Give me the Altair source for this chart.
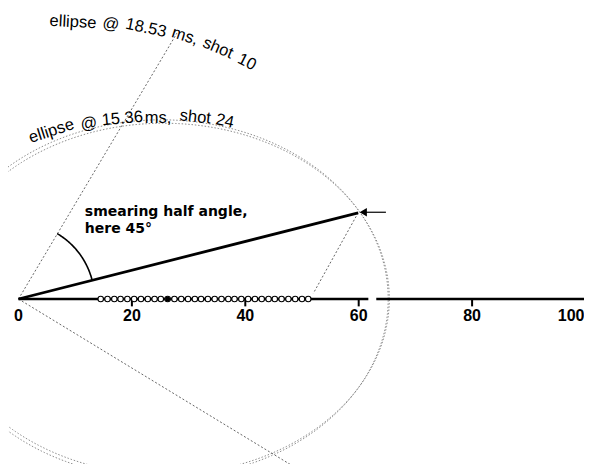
import altair as alt
import pandas as pd
import numpy as np

# ---------------- data ----------------
tick_values = [20, 40, 60, 80, 100]
tick_label_values = [0, 20, 40, 60, 80]
tick_label_texts = ["0", "20", "40", "60", "80"]
last_label_value = [100]
last_label_text = ["100"]

axis_seg_start = [0.0, 63.1]
axis_seg_end = [61.7, 100.0]

sensor_x = [14.5, 15.7, 16.9, 18.0, 19.2, 20.4, 21.6, 22.8, 24.0, 25.1, 26.3,
            27.5, 28.7, 29.9, 31.1, 32.2, 33.4, 34.6, 35.8, 37.0, 38.1, 39.3,
            40.5, 41.7, 42.9, 44.1, 45.2, 46.4, 47.6, 48.8, 50.0, 51.1]
filled_sensor_x = [26.3]

origin = [0.0, 0.0]
source_point = [59.9, 15.2]
ray_upper_end = [27.95, 46.9]
ray_lower_end = [49.6, -30.2]
focus_line_end = [52.0, 1.0]

arrow_tail = [64.8, 15.3]
arrow_head = [60.8, 15.3]

arc_radius = 13.4
arc_start_deg = 14.3
arc_end_deg = 59.4

ellipse_id = ["e1", "e2"]
ellipse_cx = [25.6, 25.2]
ellipse_a = [39.8, 40.0]
ellipse_b = [31.0, 31.6]

label1_words = ["ellipse", "@", "18.53", "ms,", "shot", "10"]
label1_x = [9.61, 16.31, 22.49, 29.37, 35.19, 40.30]
label1_y = [48.85, 48.5, 47.8, 46.38, 44.27, 41.8]
label1_angle = [3, 7, 12, 18, 23, 27]

label2_words = ["ellipse", "@", "15.36", "ms,", "shot", "24"]
label2_x = [5.8, 12.4, 18.3, 24.6, 31.2, 36.4]
label2_y = [29.63, 30.95, 31.83, 32.01, 32.1, 31.39]
label2_angle = [342, 350, 355, 0, 6, 12]

note_lines = ["smearing half angle,", "here 45°"]
note_x = [11.7, 11.7]
note_y = [15.26, 12.26]

# ---------------- scales ----------------
PX_PER_UNIT = 5.67
X0_PX, Y0_PX = 18.5, 299.0
W, H = 576, 456
xdom = [(8 - X0_PX) / PX_PER_UNIT, (8 + W - X0_PX) / PX_PER_UNIT]
ydom = [(Y0_PX - 8 - H) / PX_PER_UNIT, (Y0_PX - 8) / PX_PER_UNIT]
xs = alt.Scale(domain=xdom, nice=False, zero=False)
ys = alt.Scale(domain=ydom, nice=False, zero=False)
FONT = "Liberation Sans"


def X(f="x"):
    return alt.X(f"{f}:Q", scale=xs, axis=None)


def Y(f="y"):
    return alt.Y(f"{f}:Q", scale=ys, axis=None)


# ellipse outlines (geometry from the parameters)
rows = []
for eid, cx, a, b in zip(ellipse_id, ellipse_cx, ellipse_a, ellipse_b):
    for i, t in enumerate(np.linspace(0, 2 * np.pi, 361)):
        rows.append({"id": eid, "i": i, "x": cx + a * np.cos(t), "y": b * np.sin(t)})
ell_df = pd.DataFrame(rows)

ellipses = alt.Chart(ell_df).mark_line(
    color="#808080", strokeWidth=0.9, strokeDash=[1.5, 1.8], clip=True
).encode(x=X(), y=Y(), detail="id:N", order="i:Q")

rays_df = pd.DataFrame({
    "x": [origin[0], origin[0], source_point[0]],
    "y": [origin[1], origin[1], source_point[1]],
    "x2": [ray_upper_end[0], ray_lower_end[0], focus_line_end[0]],
    "y2": [ray_upper_end[1], ray_lower_end[1], focus_line_end[1]],
})
rays = alt.Chart(rays_df).mark_rule(
    color="#555555", strokeWidth=0.9, strokeDash=[2, 2], clip=True
).encode(x=X(), y=Y(), x2="x2:Q", y2="y2:Q")

axis_df = pd.DataFrame({"x": axis_seg_start, "x2": axis_seg_end, "y": [0.0, 0.0]})
axis_line = alt.Chart(axis_df).mark_rule(color="black", strokeWidth=2.6).encode(
    x=X(), x2="x2:Q", y=Y())

ticks_df = pd.DataFrame({"x": tick_values, "y": [0.0] * 5, "y2": [-1.3] * 5})
ticks = alt.Chart(ticks_df).mark_rule(color="black", strokeWidth=2).encode(
    x=X(), y=Y(), y2="y2:Q")

thick_df = pd.DataFrame({"x": [origin[0]], "y": [origin[1]],
                         "x2": [source_point[0]], "y2": [source_point[1]]})
thick = alt.Chart(thick_df).mark_rule(color="black", strokeWidth=2.8).encode(
    x=X(), y=Y(), x2="x2:Q", y2="y2:Q")

angs = np.radians(np.linspace(arc_start_deg, arc_end_deg, 60))
arc_df = pd.DataFrame({"i": range(60), "x": arc_radius * np.cos(angs),
                       "y": arc_radius * np.sin(angs)})
arc = alt.Chart(arc_df).mark_line(color="black", strokeWidth=1.6).encode(
    x=X(), y=Y(), order="i:Q")

arrow_df = pd.DataFrame({"x": [arrow_tail[0]], "y": [arrow_tail[1]],
                         "x2": [arrow_head[0]], "y2": [arrow_head[1]]})
arrow_line = alt.Chart(arrow_df).mark_rule(color="black", strokeWidth=1.2).encode(
    x=X(), y=Y(), x2="x2:Q", y2="y2:Q")
arrow_tip = alt.Chart(pd.DataFrame({"x": [arrow_head[0]], "y": [arrow_head[1]]})).mark_point(
    shape="triangle-left", filled=True, color="black", size=70, opacity=1).encode(x=X(), y=Y())

sensors = alt.Chart(pd.DataFrame({"x": sensor_x, "y": [0.0] * len(sensor_x)})).mark_point(
    shape="circle", filled=True, fill="white", stroke="black", strokeWidth=1.1,
    size=30, opacity=1).encode(x=X(), y=Y())
filled = alt.Chart(pd.DataFrame({"x": filled_sensor_x, "y": [0.0]})).mark_point(
    shape="circle", filled=True, color="black", size=26, opacity=1).encode(x=X(), y=Y())

tick_labels = alt.Chart(pd.DataFrame({"x": tick_label_values, "y": [-3.0] * 5,
                                      "t": tick_label_texts})).mark_text(
    font=FONT, fontSize=16, fontWeight="bold", color="black", baseline="middle"
).encode(x=X(), y=Y(), text="t:N")
last_label = alt.Chart(pd.DataFrame({"x": last_label_value, "y": [-3.0],
                                     "t": last_label_text})).mark_text(
    font=FONT, fontSize=16, fontWeight="bold", color="black", baseline="middle",
    align="right", dx=-1).encode(x=X(), y=Y(), text="t:N")

notes = alt.Chart(pd.DataFrame({"x": note_x, "y": note_y, "t": note_lines})).mark_text(
    font="DejaVu Sans", fontSize=14, fontWeight="bold", color="black", align="left",
    baseline="middle").encode(x=X(), y=Y(), text="t:N")

lab1 = alt.Chart(pd.DataFrame({"x": label1_x, "y": label1_y, "t": label1_words,
                               "a": label1_angle})).mark_text(
    font=FONT, fontSize=16.5, color="black", baseline="middle").encode(
    x=X(), y=Y(), text="t:N", angle=alt.Angle("a:Q", scale=None))
lab2 = alt.Chart(pd.DataFrame({"x": label2_x, "y": label2_y, "t": label2_words,
                               "a": label2_angle})).mark_text(
    font=FONT, fontSize=16.5, color="black", baseline="middle").encode(
    x=X(), y=Y(), text="t:N", angle=alt.Angle("a:Q", scale=None))

chart = alt.layer(
    ellipses, rays, axis_line, ticks, thick, arc, arrow_line, arrow_tip,
    sensors, filled, tick_labels, last_label, notes, lab1, lab2
).properties(
    width=W, height=H, padding=0, background="white",
    autosize=alt.AutoSizeParams(type="none")
).configure_view(stroke=None)

chart.save("out.html", embed_options={"renderer": "svg", "actions": False})
